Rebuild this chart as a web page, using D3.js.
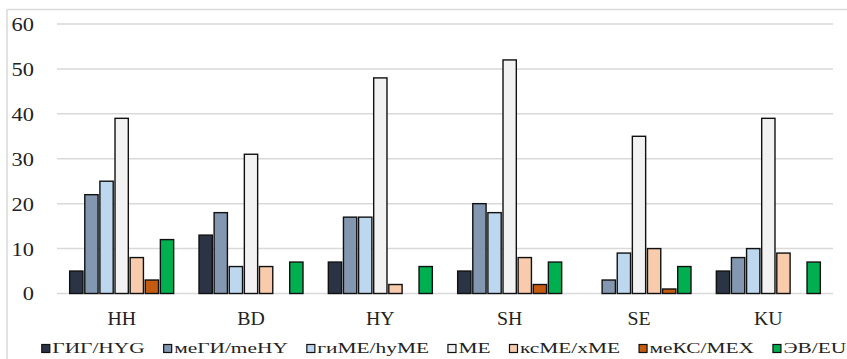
<!DOCTYPE html>
<html><head><meta charset="utf-8">
<script src="https://cdn.jsdelivr.net/npm/d3@7"></script>
<style>body{margin:0;background:#fff}svg{display:block}text{font-family:"Liberation Serif","Times New Roman",serif;fill:#222}</style>
</head><body><svg id="c" width="847" height="359"></svg>
<script>
const categories = ["HH","BD","HY","SH","SE","KU"];
const seriesNames = ["ГИГ/HYG","меГИ/meHY","гиМЕ/hyME","МЕ","ксМЕ/xME","меКС/MEX","ЭВ/EU"];
const seriesColors = ["#2b3444","#8497b0","#bdd7ee","#f2f2f2","#f8cbad","#c55a11","#00b050"];
const HYG = [5,13,7,5,0,5];
const meHY = [22,18,17,20,3,8];
const hyME = [25,6,17,18,9,10];
const ME = [39,31,48,52,35,39];
const xME = [8,6,2,8,10,9];
const MEX = [3,0,0,2,1,0];
const EU = [12,7,6,7,6,7];
const seriesValues = [HYG,meHY,hyME,ME,xME,MEX,EU];
const yTicks = [0,10,20,30,40,50,60];

const svg = d3.select("#c");
// frame
svg.append("line").attr("x1",7).attr("x2",847).attr("y1",9.5).attr("y2",9.5).attr("stroke","#d9d9d9").attr("stroke-width",1.5);
svg.append("line").attr("x1",7).attr("x2",7).attr("y1",9.5).attr("y2",359).attr("stroke","#d9d9d9").attr("stroke-width",1.5);

const L=57,R=833,T=24,B=293.5;
const x0 = d3.scaleBand().domain(categories).range([L,R]).paddingInner(0).paddingOuter(0);
const groupW = 104;
const x1 = d3.scaleBand().domain(seriesNames).range([0,groupW]).paddingInner(0.12).paddingOuter(0);
const y = d3.scaleLinear().domain([0,60]).range([B,T]);

// gridlines
svg.append("g").selectAll("line").data(yTicks).join("line")
  .attr("x1",L).attr("x2",R).attr("y1",d=>y(d)).attr("y2",d=>y(d))
  .attr("stroke","#d9d9d9").attr("stroke-width",1.5);

// y axis labels
const ya = svg.append("g").attr("transform",`translate(34,0)`)
  .call(d3.axisLeft(y).tickValues(yTicks).tickSize(0).tickPadding(0).tickFormat(d3.format("d")));
ya.select(".domain").remove();
ya.selectAll("text").attr("font-size",19).attr("fill","#222")
  .attr("x",0).attr("dy","0.34em").attr("transform","scale(1.18,1)");

// bars
const groups = svg.append("g").selectAll("g").data(categories).join("g")
  .attr("transform",d=>`translate(${x0(d)+(x0.bandwidth()-groupW)/2},0)`);
groups.selectAll("rect").data((c,ci)=>seriesNames.map((s,si)=>({s,si,v:seriesValues[si][ci]})).filter(d=>d.v>0))
  .join("rect")
  .attr("x",d=>x1(d.s)).attr("width",x1.bandwidth())
  .attr("y",d=>y(d.v)).attr("height",d=>y(0)-y(d.v))
  .attr("fill",d=>seriesColors[d.si]).attr("stroke","#111").attr("stroke-width",1.4);

// x axis labels
const xa = svg.append("g").attr("transform",`translate(0,${B})`)
  .call(d3.axisBottom(x0).tickSize(0).tickPadding(0));
xa.select(".domain").remove();
xa.selectAll(".tick text").attr("font-size",18).attr("fill","#222")
  .attr("y",32).attr("dy",0).attr("transform","scale(1.1,1)");

// legend
const lg = svg.append("g");
const items = lg.selectAll("g").data(seriesNames).join("g");
items.append("rect").attr("width",8).attr("height",8).attr("y",-8.5)
  .attr("fill",(d,i)=>seriesColors[i]).attr("stroke","#111").attr("stroke-width",1.2);
const sx=1.38;
items.append("text").text(d=>d).attr("font-size",15.5).attr("fill","#222")
  .attr("transform",`translate(10.5,0) scale(${sx},1)`);
let widths=[]; items.each(function(){ widths.push(d3.select(this).select("text").node().getComputedTextLength()*sx); });
const gap=19;
const total = d3.sum(widths.map(w=>10.5+w)) + gap*(widths.length-1);
let cx = 444 - total/2;
items.attr("transform",(d,i)=>{ const t=`translate(${cx},353)`; cx += 10.5+widths[i]+gap; return t; });
</script></body></html>
